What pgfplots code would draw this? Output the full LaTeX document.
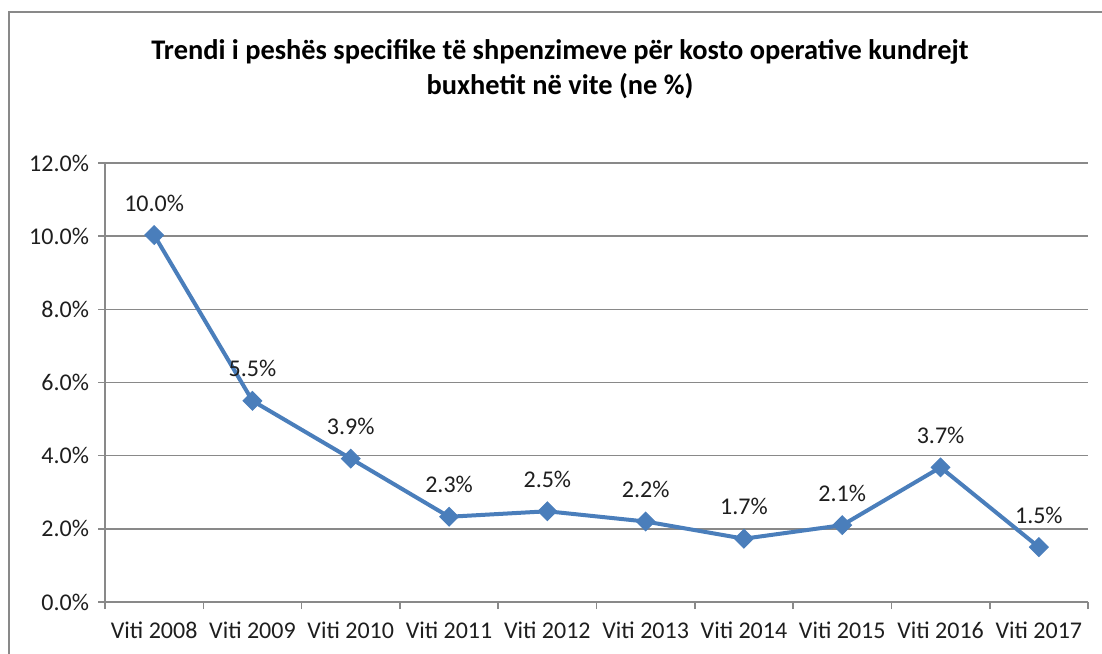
\documentclass[border=0pt]{standalone}
\usepackage{pgfplots}
\pgfplotsset{compat=1.18}
\usepackage{fontspec}
\setmainfont{Carlito}
\definecolor{lineblue}{RGB}{74,126,187}
\definecolor{gridgray}{RGB}{137,137,137}
\definecolor{txt}{RGB}{30,30,30}
\begin{document}
\begin{tikzpicture}[x=1pt,y=1pt]
\path[use as bounding box] (0,0) rectangle (551,326.5);
\draw[gridgray,line width=1pt] (4.5,-20) -- (4.5,320.5) -- (570,320.5);
\node[font=\fontsize{14.2}{17.5}\selectfont\bfseries, align=center, text=black] at (280,292) {Trendi i peshës specifike të shpenzimeve për kosto operative kundrejt\\buxhetit në vite (ne \%)};
\begin{axis}[
  at={(52.5pt,25.5pt)}, anchor=origin,
  scale only axis, width=491.5pt, height=219.5pt,
  xmin=0.5, xmax=10.5, ymin=0, ymax=12,
  axis x line=bottom, axis y line=left,
  axis line style={-, draw=gridgray, line width=0.8pt},
  xtick={1,...,10},
  xticklabels={Viti 2008,Viti 2009,Viti 2010,Viti 2011,Viti 2012,Viti 2013,Viti 2014,Viti 2015,Viti 2016,Viti 2017},
  minor xtick={0.5,1.5,...,10.5},
  major x tick style={draw=none},
  minor tick length=3.5pt,
  ytick={0,2,...,12},
  major tick length=3.5pt,
  tick align=outside,
  tick style={gridgray, line width=0.8pt},
  ymajorgrids, grid style={gridgray, line width=0.8pt},
  yticklabel={\pgfmathprintnumber[fixed,fixed zerofill,precision=1]{\tick}\%},
  /pgf/number format/assume math mode=true,
  tick label style={font=\fontsize{12}{14}\selectfont, text=txt},
  xticklabel style={yshift=-3pt},
  yticklabel style={xshift=-1pt},
  clip=false,
]
\addplot[lineblue, line width=2pt, mark=square*, mark size=3.3pt, mark options={rotate=45, fill=lineblue, draw=lineblue, line width=0.5pt},
  nodes near coords={\pgfmathprintnumber[fixed,fixed zerofill,precision=1]{\pgfplotspointmeta}\%},
  nodes near coords style={anchor=center, yshift=16pt, font=\fontsize{12}{14}\selectfont, text=txt, /pgf/number format/assume math mode=true},
  point meta=y]
coordinates {(1,10.03) (2,5.5) (3,3.92) (4,2.33) (5,2.48) (6,2.2) (7,1.73) (8,2.1) (9,3.68) (10,1.5)};
\end{axis}
\end{tikzpicture}
\end{document}
